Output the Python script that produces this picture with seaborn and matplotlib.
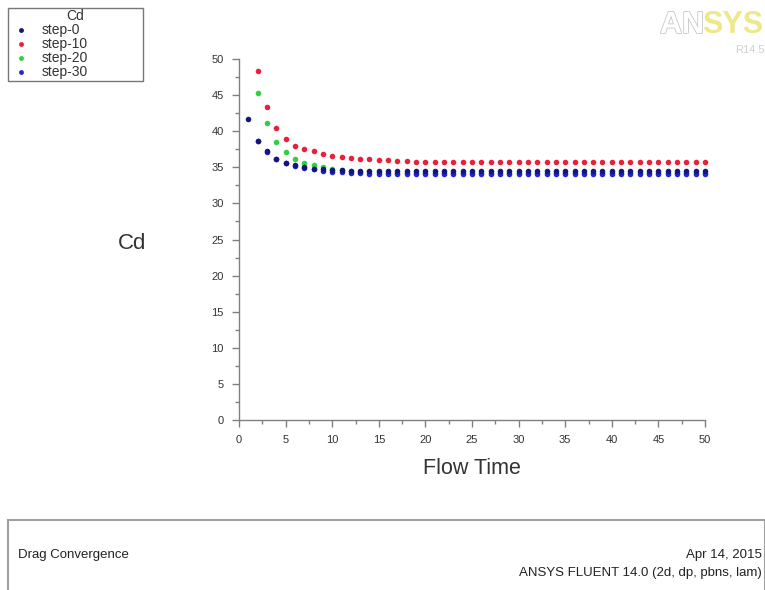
import numpy as np
import pandas as pd
import matplotlib
matplotlib.use("Agg")
import matplotlib.pyplot as plt
import matplotlib.patheffects as pe
import seaborn as sns
from matplotlib.patches import Rectangle
from matplotlib.ticker import MultipleLocator

# --- Data ---
step0_x = list(range(1, 51))
step0_y = [41.7, 38.7, 37.2, 36.1, 35.6, 35.3, 35.0, 34.8, 34.7, 34.6,
           34.6, 34.5, 34.5, 34.5, 34.5, 34.5, 34.5, 34.5, 34.5, 34.5,
           34.5, 34.5, 34.5, 34.5, 34.5, 34.5, 34.5, 34.5, 34.5, 34.5,
           34.5, 34.5, 34.5, 34.5, 34.5, 34.5, 34.5, 34.5, 34.5, 34.5,
           34.5, 34.5, 34.5, 34.5, 34.5, 34.5, 34.5, 34.5, 34.5, 34.5]

step10_x = list(range(2, 51))
step10_y = [48.3, 43.4, 40.5, 38.9, 38.0, 37.5, 37.2, 36.8, 36.5, 36.4,
            36.3, 36.2, 36.1, 36.0, 36.0, 35.9, 35.9, 35.8, 35.8, 35.8,
            35.8, 35.7, 35.7, 35.7, 35.7, 35.7, 35.7, 35.7, 35.7, 35.7,
            35.7, 35.7, 35.7, 35.7, 35.7, 35.7, 35.7, 35.7, 35.7, 35.7,
            35.7, 35.7, 35.7, 35.7, 35.7, 35.7, 35.7, 35.7, 35.7]

step20_x = list(range(2, 51))
step20_y = [45.3, 41.1, 38.5, 37.1, 36.2, 35.6, 35.3, 35.0, 34.8, 34.6,
            34.5, 34.4, 34.3, 34.3, 34.2, 34.2, 34.2, 34.2, 34.2, 34.2,
            34.2, 34.2, 34.2, 34.2, 34.2, 34.2, 34.2, 34.2, 34.2, 34.2,
            34.2, 34.2, 34.2, 34.2, 34.2, 34.2, 34.2, 34.2, 34.2, 34.2,
            34.2, 34.2, 34.2, 34.2, 34.2, 34.2, 34.2, 34.2, 34.2]

step30_x = list(range(2, 51))
step30_y = [38.6, 37.1, 36.1, 35.6, 35.2, 34.9, 34.7, 34.5, 34.4, 34.3,
            34.2, 34.2, 34.1, 34.1, 34.1, 34.1, 34.1, 34.1, 34.1, 34.1,
            34.1, 34.1, 34.1, 34.1, 34.1, 34.1, 34.1, 34.1, 34.1, 34.1,
            34.1, 34.1, 34.1, 34.1, 34.1, 34.1, 34.1, 34.1, 34.1, 34.1,
            34.1, 34.1, 34.1, 34.1, 34.1, 34.1, 34.1, 34.1, 34.1]

series_names = ["step-0", "step-10", "step-20", "step-30"]
series_colors = ["#15157a", "#e8203a", "#30d040", "#2424d8"]

# --- Build long dataframe ---
df = pd.concat([
    pd.DataFrame({"Flow Time": step0_x, "Cd": step0_y, "series": "step-0"}),
    pd.DataFrame({"Flow Time": step10_x, "Cd": step10_y, "series": "step-10"}),
    pd.DataFrame({"Flow Time": step20_x, "Cd": step20_y, "series": "step-20"}),
    pd.DataFrame({"Flow Time": step30_x, "Cd": step30_y, "series": "step-30"}),
], ignore_index=True)

sns.set_style("white")
plt.rcParams["font.family"] = ["Liberation Sans", "DejaVu Sans"]

fig = plt.figure(figsize=(7.65, 5.9), dpi=100)
ax = fig.add_axes([239 / 765, 170 / 590, 466 / 765, 361 / 590])

# step-20 first so blue / navy sit on top of it like in Fluent
order = ["step-20", "step-10", "step-30", "step-0"]
pal = dict(zip(series_names, series_colors))
for name in order:
    sub = df[df["series"] == name]
    sns.scatterplot(data=sub, x="Flow Time", y="Cd", color=pal[name], s=16,
                    linewidth=0, ax=ax, legend=False, clip_on=False)

ax.set_xlim(0, 50)
ax.set_ylim(0, 50)
ax.xaxis.set_major_locator(MultipleLocator(5))
ax.yaxis.set_major_locator(MultipleLocator(5))
ax.xaxis.set_minor_locator(MultipleLocator(2.5))
ax.yaxis.set_minor_locator(MultipleLocator(2.5))
for s in ["top", "right"]:
    ax.spines[s].set_visible(False)
for s in ["left", "bottom"]:
    ax.spines[s].set_color("#808080")
    ax.spines[s].set_linewidth(1.0)
ax.tick_params(which="major", direction="out", length=5, width=1, color="#808080",
               labelsize=8, labelcolor="#333333", left=True, bottom=True, pad=6)
ax.tick_params(which="minor", direction="out", length=3, width=1, color="#808080",
               left=True, bottom=True)

ax.set_xlabel("Flow Time", fontsize=15.5, color="#333333", labelpad=9)
ax.set_ylabel("")
fig.text(132 / 765, 1 - 243 / 590, "Cd", fontsize=16, color="#333333",
         ha="center", va="center")

# --- Legend (top-left, Fluent style) ---
handles = [plt.Line2D([], [], marker="o", linestyle="", markersize=3.5,
                      markerfacecolor=c, markeredgewidth=0)
           for c in series_colors]
leg = fig.legend(handles, series_names, title="Cd", loc="upper left",
                 bbox_to_anchor=(8 / 765, 1 - 68 / 590, 135 / 765, 60 / 590),
                 mode="expand", fontsize=10, title_fontsize=10,
                 labelspacing=0.0, handletextpad=0.6, handlelength=1.7,
                 borderpad=0.1, borderaxespad=0, fancybox=False,
                 frameon=True)
leg.get_frame().set_edgecolor("#555555")
leg.get_frame().set_linewidth(1.0)
for t in leg.get_texts():
    t.set_color("#333333")
leg.get_title().set_color("#333333")

# --- ANSYS logo (top right) ---
fig.text(660 / 765, 1 - 25 / 590, "AN", fontsize=22, fontweight="bold",
         color="white", va="center", ha="left",
         path_effects=[pe.withStroke(linewidth=1.2, foreground="#c8c8c8")])
fig.text(702 / 765, 1 - 25 / 590, "SYS", fontsize=22, fontweight="bold",
         color="#eee88a", va="center", ha="left")
fig.text(735 / 765, 1 - 50 / 590, "R14.5", fontsize=8, color="#d0d0d0",
         va="center", ha="left")

# --- Bottom title box ---
fig.patches.append(Rectangle((8 / 765, -0.05), 0.99, 1 - 520 / 590 + 0.05,
                             transform=fig.transFigure, fill=False,
                             edgecolor="#a0a0a0", linewidth=1.5))
fig.text(18 / 765, 1 - 555 / 590, "Drag Convergence", fontsize=9.5,
         color="#222222", va="center", ha="left")
fig.text(762 / 765, 1 - 555 / 590, "Apr 14, 2015", fontsize=9.5,
         color="#222222", va="center", ha="right")
fig.text(762 / 765, 1 - 573 / 590, "ANSYS FLUENT 14.0 (2d, dp, pbns, lam)",
         fontsize=9.5, color="#222222", va="center", ha="right")

fig.savefig("out.png", dpi=100)
